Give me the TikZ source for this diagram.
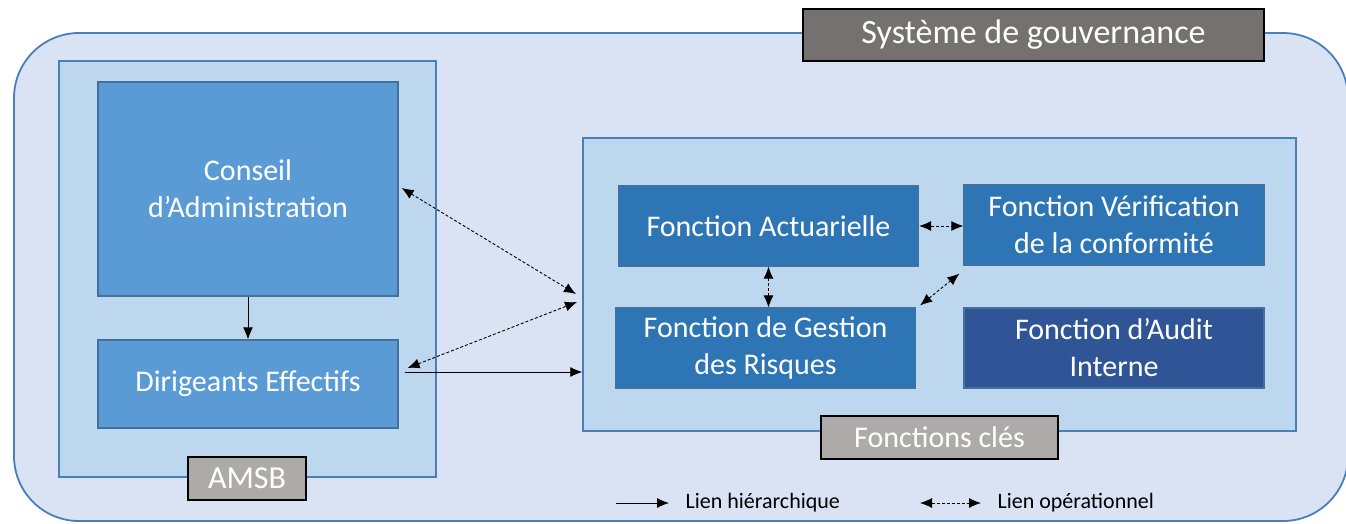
\documentclass[tikz,border=0pt]{standalone}
\usepackage{fontspec}
\setmainfont{Carlito}
\usetikzlibrary{positioning, arrows.meta}
\definecolor{govfill}{HTML}{DAE3F3}
\definecolor{govline}{HTML}{4A7EBB}
\definecolor{framefill}{HTML}{BDD7EE}
\definecolor{lightblue}{HTML}{5B9BD5}
\definecolor{midblue}{HTML}{2E75B6}
\definecolor{darkblue}{HTML}{2F5597}
\definecolor{boxline}{HTML}{41719C}
\definecolor{darkgrey}{HTML}{767171}
\definecolor{lightgrey}{HTML}{AEAAAA}

\begin{document}
\begin{tikzpicture}[x=1pt, y=-1pt, font=\fontsize{30}{37}\selectfont,
outernode/.style={rectangle, rounded corners=65pt, draw=govline, fill=govfill, line width=1.8pt, inner sep=0pt},
framenode/.style={rectangle, draw=govline, fill=framefill, line width=1.5pt, inner sep=0pt},
bluenode/.style={rectangle, draw=boxline, fill=#1, line width=1.2pt, text=white, align=center, inner sep=0pt, minimum width=300pt, minimum height=80pt},
tagnode/.style={rectangle, draw=black, fill=#1, line width=1.8pt, text=white, inner sep=0pt, minimum height=43pt},
hier/.style={-{Latex[length=12pt,width=10pt]}, line width=0.9pt},
oper/.style={{Latex[length=12pt,width=10pt]}-{Latex[length=12pt,width=10pt]}, line width=0.9pt, dash pattern=on 3pt off 2pt},
]
\useasboundingbox (0,0) rectangle (1346,523);
%Nodes
\node[outernode, minimum width=1334pt, minimum height=488pt] (gov)  at (681,277) {};
\node[framenode, minimum width=377pt, minimum height=416pt]  (amsb) at (247.5,269) {};
\node[framenode, minimum width=713pt, minimum height=293pt]  (fk)   at (939.5,284.5) {};
\node[bluenode=lightblue, minimum height=214pt] (cons) at (248,189) {Conseil\\d'Administration};
\node[bluenode=lightblue, minimum height=88pt]  (dir)  at (248,384) {Dirigeants Effectifs};
\node[bluenode=midblue]  (act) at (768.5,226) {Fonction Actuarielle};
\node[bluenode=midblue]  (ver) at (1114,225) {Fonction Vérification\\de la conformité};
\node[bluenode=midblue]  (ges) at (765.5,348) {Fonction de Gestion\\des Risques};
\node[bluenode=darkblue] (aud) at (1114,348) {Fonction d'Audit\\Interne};
\node[tagnode=darkgrey, minimum width=461pt, minimum height=52pt, font=\fontsize{34}{40}\selectfont] (sys) at (1033.5,35) {Système de gouvernance};
\node[tagnode=lightgrey, minimum width=118pt, font=\fontsize{32}{38}\selectfont] (amsbtag) at (247,478.5) {AMSB};
\node[tagnode=lightgrey, minimum width=237pt] (fktag)   at (939.5,437.5) {Fonctions clés};

%Legend
\coordinate (h1) at (616,503);
\coordinate (h2) at (669,503);
\coordinate (o1) at (920,503);
\coordinate (o2) at (981,503);
\node[anchor=west, font=\fontsize{22}{26}\selectfont] (hiertxt) at (682,503) {Lien hiérarchique};
\node[anchor=west, font=\fontsize{22}{26}\selectfont] (opertxt) at (994,503) {Lien opérationnel};
\coordinate (fk1) at (576,294);
\coordinate (fk2) at (577,302);

%Lines
\draw[hier] (cons.south) -- (dir.north);
\draw[hier] ([xshift=6pt,yshift=12pt]dir.east) -- ([yshift=12pt]dir.east -| fk.west);
\draw[oper] ([xshift=3pt,yshift=1pt]cons.east) -- (fk1);
\draw[oper] ([xshift=9pt,yshift=16pt]dir.east) -- (fk2);
\draw[oper] (act.east) -- (act.east -| ver.west);
\draw[oper] (act.south) -- (act.south |- ges.north);
\draw[oper] ([xshift=4pt,yshift=2pt]ges.north east) -- ([xshift=-4pt,yshift=-8pt]ver.south west);
\draw[hier] (h1) -- (h2);
\draw[oper] (o1) -- (o2);
\end{tikzpicture}
\end{document}
